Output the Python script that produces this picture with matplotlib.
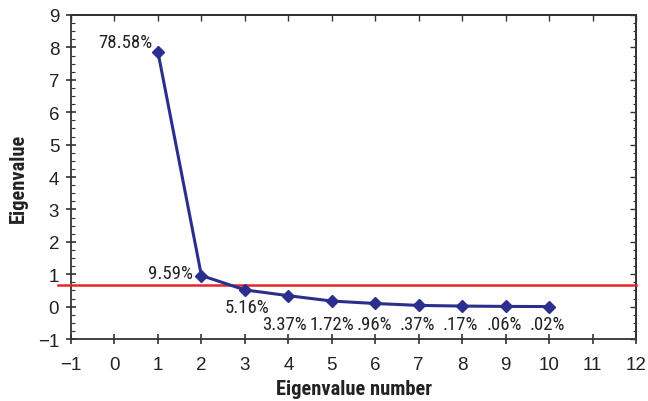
import matplotlib
matplotlib.use("Agg")
import matplotlib.pyplot as plt
from matplotlib.ticker import MultipleLocator

numbers = [1, 2, 3, 4, 5, 6, 7, 8, 9, 10]
eigenvalues = [7.858, 0.959, 0.516, 0.337, 0.172, 0.096, 0.037, 0.017, 0.006, 0.002]
pct_labels = ["78.58%", "9.59%", "5.16%", "3.37%", "1.72%", ".96%", ".37%", ".17%", ".06%", ".02%"]
cutoff = 0.66
x_ticks = list(range(-1, 13))
y_ticks = list(range(-1, 10))

narrow = ["Liberation Sans Narrow", "Roboto Condensed", "DejaVu Sans"]
regular = ["Liberation Sans", "DejaVu Sans"]

fig = plt.figure(figsize=(6.48, 4.02), dpi=100)
ax = fig.add_axes([0.1096, 0.1542, 0.8719, 0.8060])

line_col = "#2B2E8C"
ax.plot(numbers, eigenvalues, color=line_col, lw=2.2, marker="D", ms=6,
        mfc=line_col, mec=line_col, zorder=4, clip_on=False)
ax.plot([-1.3, 12], [cutoff, cutoff], color="#E3262B", lw=1.8, zorder=3, clip_on=False)

ax.set_xlim(-1, 12)
ax.set_ylim(-1, 9)
ax.set_xticks(x_ticks)
ax.set_yticks(y_ticks)
ax.yaxis.set_minor_locator(MultipleLocator(0.25))

for s in ax.spines.values():
    s.set_linewidth(1.3)
    s.set_color("#333333")

ax.tick_params(axis="y", which="major", direction="inout", length=7, width=1.1,
               pad=5, labelsize=13.5, colors="#222222")
ax.tick_params(axis="y", which="minor", direction="in", length=3, width=0.8,
               colors="#333333")
ax.tick_params(axis="x", which="major", direction="inout", length=7, width=1.1,
               pad=9, labelsize=13.5, colors="#222222")
for lab in ax.get_xticklabels() + ax.get_yticklabels():
    lab.set_family(regular)

# top and right spines carry inward ticks only
top = ax.secondary_xaxis("top")
top.set_xticks(x_ticks)
top.tick_params(direction="in", length=4, width=1.0, labeltop=False, colors="#333333")
right = ax.secondary_yaxis("right")
right.set_yticks(y_ticks)
right.yaxis.set_minor_locator(MultipleLocator(0.25))
right.tick_params(which="major", direction="in", length=4, width=1.0, labelright=False, colors="#333333")
right.tick_params(which="minor", direction="in", length=2.5, width=0.8, colors="#333333")
for sp in list(top.spines.values()) + list(right.spines.values()):
    sp.set_linewidth(1.3)
    sp.set_color("#333333")

ax.set_xlabel("Eigenvalue number", family=narrow, fontweight="bold", fontsize=14.8,
              color="#222222", labelpad=4)
ax.set_ylabel("Eigenvalue", family=narrow, fontweight="bold", fontsize=14.8,
              color="#222222", labelpad=7)

txt = dict(family=narrow, fontsize=13.5, color="#222222")
ax.annotate(pct_labels[0], (numbers[0], eigenvalues[0]), xytext=(-5, 10),
            textcoords="offset pixels", ha="right", va="center", **txt)
ax.annotate(pct_labels[1], (numbers[1], eigenvalues[1]), xytext=(-8, 3),
            textcoords="offset pixels", ha="right", va="center", **txt)
ax.annotate(pct_labels[2], (numbers[2], eigenvalues[2]), xytext=(2, -17),
            textcoords="offset pixels", ha="center", va="center", **txt)
shifts = [-0.08, 0.0, -0.03, -0.03, -0.03, -0.02, -0.03]
for xv, lab, dx in zip(numbers[3:], pct_labels[3:], shifts):
    ax.text(xv + dx, -0.54, lab, ha="center", va="center", **txt)

fig.savefig("out.png", dpi=100)
